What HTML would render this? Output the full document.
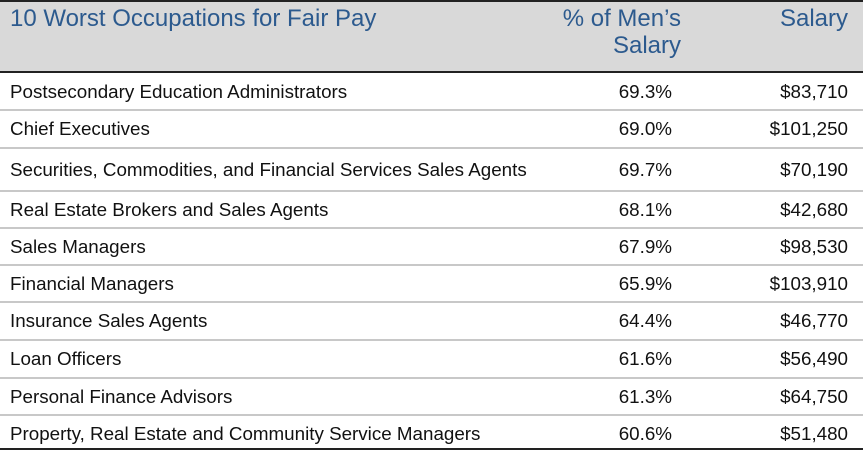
<!DOCTYPE html>
<html><head><style>
body{margin:0;width:863px;height:459px;background:#fff;font-family:"Liberation Sans",Arial,sans-serif;position:relative;overflow:hidden}
.top{position:absolute;left:0;top:0;width:863px;height:2px;background:#222}
.hdr{position:absolute;left:0;top:2px;width:863px;height:69px;background:#d9d9d9}
.hl{position:absolute;left:0;top:71px;width:863px;height:2px;background:#222}
.h{position:absolute;color:#2c5a8e;font-size:24px;line-height:27px}
.row{position:absolute;left:0;width:863px;font-size:18.8px;color:#111}
.row span{position:absolute;top:50%;transform:translateY(-50%);white-space:nowrap}
.ln{position:absolute;left:0;width:863px;height:2px;background:#c8c8c8}
.bot{position:absolute;left:0;top:448px;width:863px;height:2px;background:#222}
</style></head><body>
<div class="top"></div><div class="hdr"></div><div class="hl"></div>
<div class="h" style="left:10px;top:5px">10 Worst Occupations for Fair Pay</div>
<div class="h" style="right:182px;top:5px;text-align:right">% of Men’s<br>Salary</div>
<div class="h" style="right:15px;top:5px">Salary</div>
<div class="row" style="top:73px;height:37px"><span style="left:10px">Postsecondary Education Administrators</span><span style="right:191px">69.3%</span><span style="right:15px">$83,710</span></div>
<div class="ln" style="top:109px"></div>
<div class="row" style="top:111px;height:36px"><span style="left:10px">Chief Executives</span><span style="right:191px">69.0%</span><span style="right:15px">$101,250</span></div>
<div class="ln" style="top:147px"></div>
<div class="row" style="top:149px;height:41px"><span style="left:10px">Securities, Commodities, and Financial Services Sales Agents</span><span style="right:191px">69.7%</span><span style="right:15px">$70,190</span></div>
<div class="ln" style="top:190px"></div>
<div class="row" style="top:192px;height:35px"><span style="left:10px">Real Estate Brokers and Sales Agents</span><span style="right:191px">68.1%</span><span style="right:15px">$42,680</span></div>
<div class="ln" style="top:227px"></div>
<div class="row" style="top:229px;height:35px"><span style="left:10px">Sales Managers</span><span style="right:191px">67.9%</span><span style="right:15px">$98,530</span></div>
<div class="ln" style="top:264px"></div>
<div class="row" style="top:266px;height:35px"><span style="left:10px">Financial Managers</span><span style="right:191px">65.9%</span><span style="right:15px">$103,910</span></div>
<div class="ln" style="top:301px"></div>
<div class="row" style="top:303px;height:36px"><span style="left:10px">Insurance Sales Agents</span><span style="right:191px">64.4%</span><span style="right:15px">$46,770</span></div>
<div class="ln" style="top:339px"></div>
<div class="row" style="top:341px;height:36px"><span style="left:10px">Loan Officers</span><span style="right:191px">61.6%</span><span style="right:15px">$56,490</span></div>
<div class="ln" style="top:377px"></div>
<div class="row" style="top:379px;height:35px"><span style="left:10px">Personal Finance Advisors</span><span style="right:191px">61.3%</span><span style="right:15px">$64,750</span></div>
<div class="ln" style="top:414px"></div>
<div class="row" style="top:416px;height:35px"><span style="left:10px">Property, Real Estate and Community Service Managers</span><span style="right:191px">60.6%</span><span style="right:15px">$51,480</span></div>
<div class="bot"></div>
</body></html>
